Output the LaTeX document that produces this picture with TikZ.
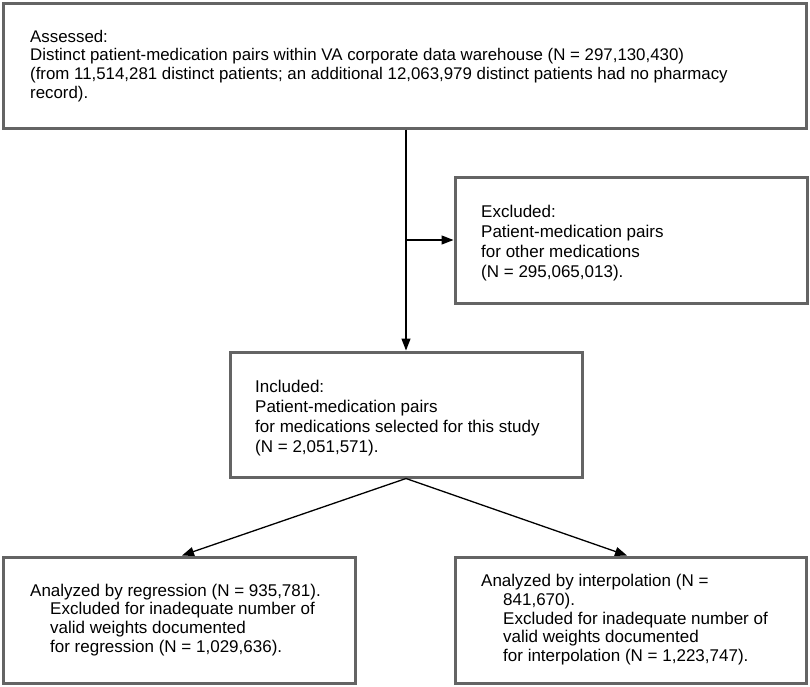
\documentclass[tikz,border=0pt]{standalone}
\usepackage{fontspec}
\setmainfont{Liberation Sans}
\usetikzlibrary{arrows.meta,calc}
\definecolor{boxgray}{RGB}{100,100,100}
\newcommand\tlines[1]{\vtop{\halign{##\hfil\cr#1\crcr}}}
\tikzset{
  fbox/.style={draw=boxgray, line width=3pt, rectangle, inner sep=0pt, fill=white},
  ftxt/.style={anchor=base west, inner sep=0pt, text=black},
  ftop/.style={font=\fontsize{16.85}{18.7}\selectfont},
  fsmall/.style={font=\fontsize{17}{18.8}\selectfont},
  fbig/.style={font=\fontsize{17}{20}\selectfont},
  farr/.style={draw=black, line width=1.3pt, -{Triangle[length=12pt,width=9pt]}},
  fline/.style={draw=black, line width=1.3pt}
}
\begin{document}
\begin{tikzpicture}[x=1pt,y=-1pt]
\useasboundingbox (0,0) rectangle (810,686);
% boxes
\node[fbox, minimum width=803pt, minimum height=125pt] (top) at (404.5,65.5) {};
\node[fbox, minimum width=352pt, minimum height=126pt] (exc) at (631,240) {};
\node[fbox, minimum width=352pt, minimum height=125pt] (inc) at (406,414.5) {};
\node[fbox, minimum width=352pt, minimum height=126pt] (bl) at (179,620) {};
\node[fbox, minimum width=351pt, minimum height=126pt] (br) at (630.5,620) {};
% texts
\node[ftxt, ftop] (toptxt) at (30,42) {\tlines{Assessed:\cr
Distinct patient-medication pairs within VA corporate data warehouse (N = 297,130,430)\cr
(from 11,514,281 distinct patients; an additional 12,063,979 distinct patients had no pharmacy\cr
record).}};
\node[ftxt, fbig] (exctxt) at (481,217) {\tlines{Excluded:\cr
Patient-medication pairs\cr
for other medications\cr
(N = 295,065,013).}};
\node[ftxt, fbig] (inctxt) at (255,392) {\tlines{Included:\cr
Patient-medication pairs\cr
for medications selected for this study\cr
(N = 2,051,571).}};
\node[ftxt, fsmall] (bltxt) at (30,596) {\tlines{Analyzed by regression (N = 935,781).\cr
\kern20pt Excluded for inadequate number of\cr
\kern20pt valid weights documented\cr
\kern20pt for regression (N = 1,029,636).}};
\node[ftxt, fsmall] (brtxt) at (481,586.5) {\tlines{Analyzed by interpolation (N =\cr
\kern22pt 841,670).\cr
\kern22pt Excluded for inadequate number of\cr
\kern22pt valid weights documented\cr
\kern22pt for interpolation (N = 1,223,747).}};
% connectors
\coordinate (split) at (406,240);
\draw[farr] (top.south -| inc.north) -- (inc.north);
\draw[farr] (split) -- (exc.west);
\coordinate (blin) at (182,555.5);
\coordinate (brin) at (627,555.5);
\draw[farr] (inc.south) -- (blin);
\draw[farr] (inc.south) -- (brin);
\end{tikzpicture}
\end{document}
